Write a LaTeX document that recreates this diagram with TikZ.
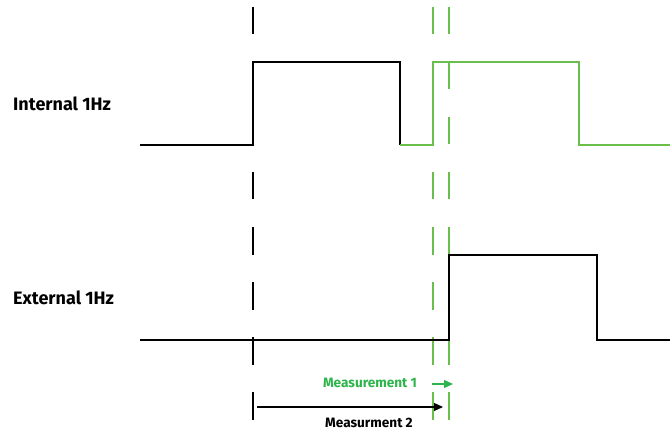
\documentclass[tikz,border=0pt]{standalone}
\usepackage{fontspec}
\setmainfont{Fira Sans}
\usetikzlibrary{arrows.meta}
\definecolor{sig}{RGB}{106,190,75}
\definecolor{meas}{RGB}{45,180,75}
\begin{document}
\begin{tikzpicture}[x=1pt,y=-1pt,
  wave/.style={line width=1.5pt,line join=miter},
  marker/.style={line width=1.5pt,dash pattern=on 27.5pt off 27.5pt},
  lbl/.style={font=\bfseries\fontsize{18}{20}\selectfont,anchor=west,inner sep=0pt},
  mlbl/.style={font=\bfseries\fontsize{13.6}{15}\selectfont,inner sep=0pt},
  marrow/.style={line width=1.3pt,-{Triangle[length=9pt,width=8pt]}}]
\useasboundingbox (0,0) rectangle (670,433);
% marker lines
\coordinate (k0) at (253,7);  \coordinate (k1) at (253,420);
\coordinate (g0) at (433,7);  \coordinate (g1) at (433,420);
\coordinate (h0) at (449,7);  \coordinate (h1) at (449,420);
\draw[marker] (k0) -- (k1);
\draw[marker,sig] (g0) -- (g1);
\draw[marker,sig] (h0) -- (h1);
% internal signal
\draw[wave] (140,145) -- (253,145) -- (253,62) -- (400,62) -- (400,145);
\draw[wave,sig] (400,145) -- (433,145) -- (433,62) -- (579,62) -- (579,145) -- (670,145);
% external signal
\draw[wave] (140,340) -- (449,340) -- (449,255) -- (597,255) -- (597,340) -- (670,340);
% labels
\node[lbl] (int) at (13,104) {Internal 1Hz};
\node[lbl] (ext) at (13,298) {External 1Hz};
% measurements
\coordinate (a1s) at (432,384); \coordinate (a1e) at (453,384);
\draw[marrow,meas] (a1s) -- (a1e);
\node[mlbl,meas] (m1) at (370,383) {Measurement 1};
\coordinate (a2s) at (257,407); \coordinate (a2e) at (443,407);
\draw[marrow] (a2s) -- (a2e);
\node[mlbl] (m2) at (369,423) {Measurment 2};
\end{tikzpicture}
\end{document}
